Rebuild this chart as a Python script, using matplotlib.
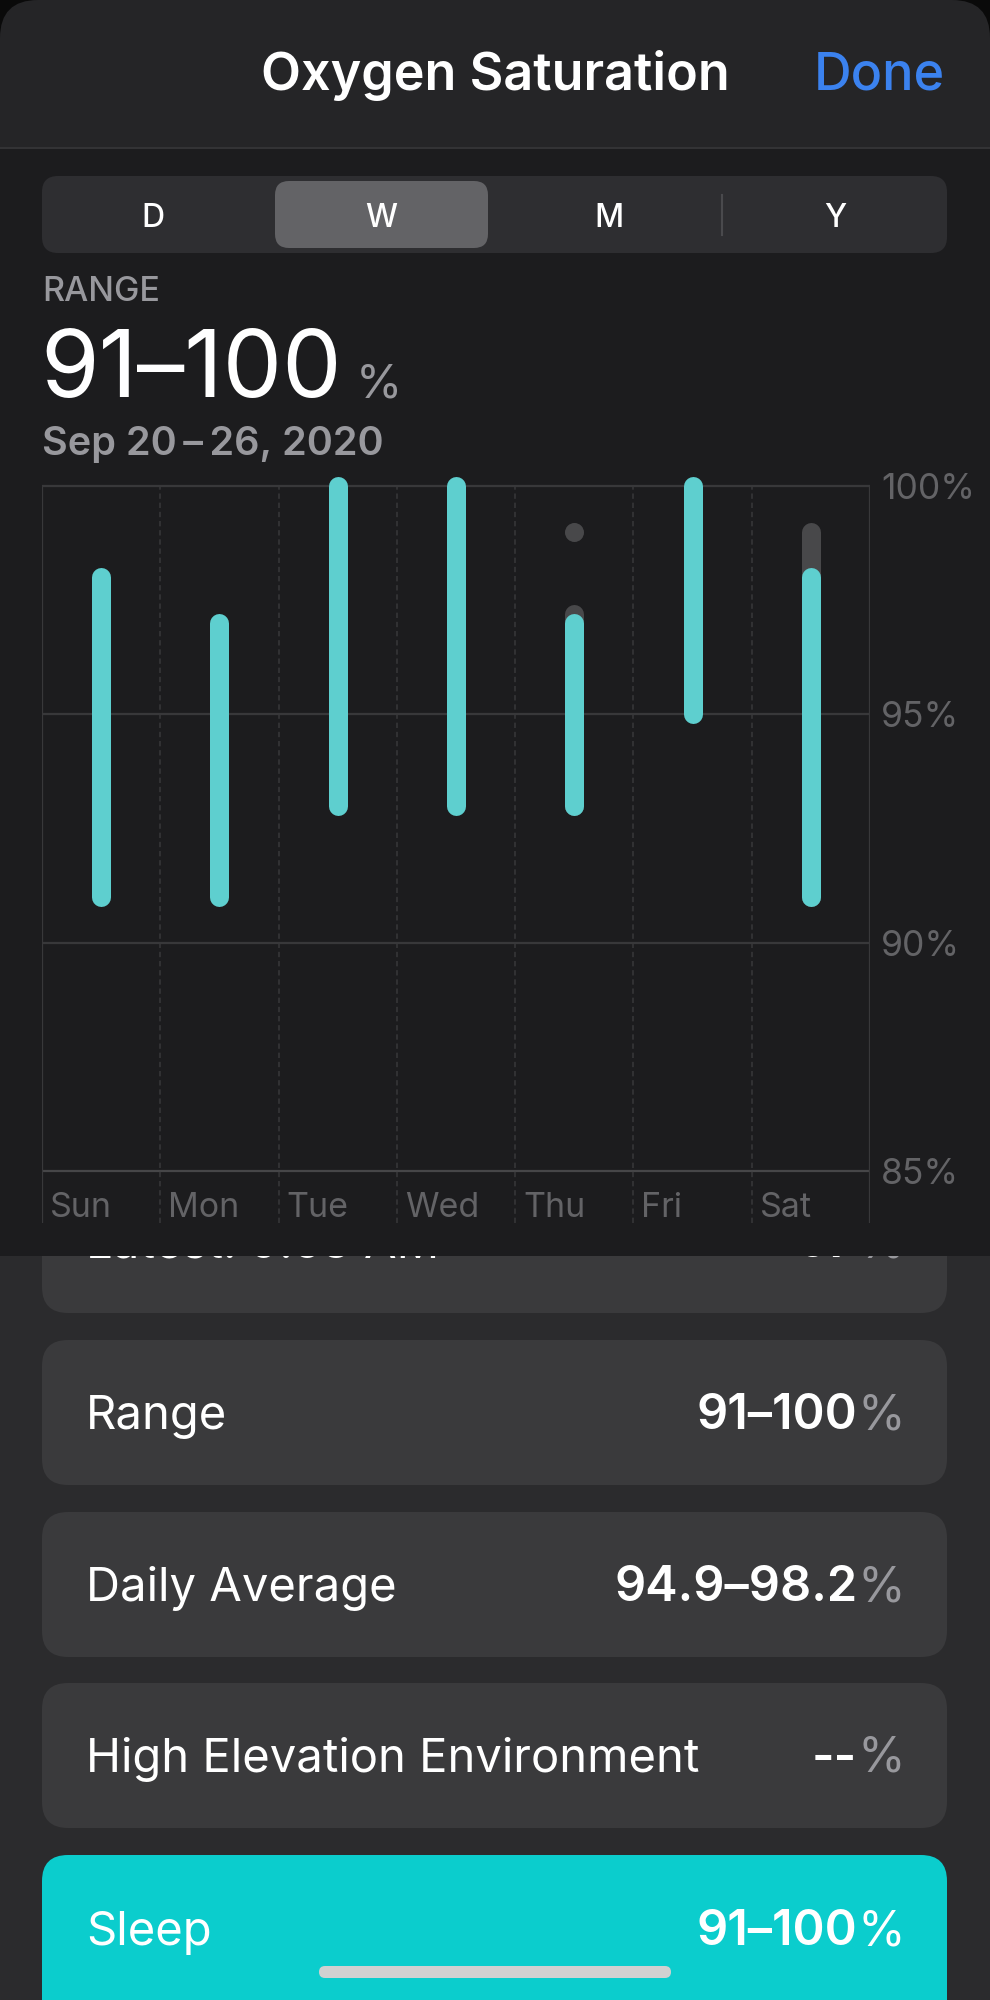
import matplotlib
matplotlib.use("Agg")
import matplotlib.pyplot as plt
from matplotlib.patches import FancyBboxPatch, Rectangle

# ---------------- data ----------------
days = ["Sun", "Mon", "Tue", "Wed", "Thu", "Fri", "Sat"]
sleep_low = [91, 91, 93, 93, 93, 95, 91]
sleep_high = [98, 97, 100, 100, 97, 100, 98]
# readings outside sleep (drawn grey, behind)
other_days = ["Thu", "Sat"]
other_low = [93, 91]
other_high = [97.2, 99]
other_point_days = ["Thu"]
other_point_vals = [99]
y_ticks = [85, 90, 95, 100]
y_tick_labels = ["85%", "90%", "95%", "100%"]
segments = ["D", "W", "M", "Y"]
title = "Oxygen Saturation"
range_value = "91\u2013100"
date_text = "Sep 20\u2009\u2013\u200926, 2020"
card_labels = ["Latest: 9:53 AM", "Range", "Daily Average", "High Elevation Environment", "Sleep"]
card_values = ["97", "91\u2013100", "94.9\u201398.2", "--", "91\u2013100"]

# ---------------- style ----------------
FONT = ["Inter", "Roboto", "DejaVu Sans"]
plt.rcParams["font.family"] = FONT
W, H, DPI = 990, 2000, 100
PT = 72.0 / DPI  # px -> pt

BG_BOTTOM = "#2b2b2d"
CARD = "#3a3a3c"
PANEL = "#1c1c1e"
HEADER = "#252527"
TEAL = "#5ecfcf"
TEAL_CARD = "#0bcdcd"
GREY_BAR = "#48484a"
GRID = "#38383a"
AXIS_TXT = "#636366"
SUB_TXT = "#98989d"

fig = plt.figure(figsize=(W / DPI, H / DPI), dpi=DPI, facecolor=BG_BOTTOM)
bg = fig.add_axes([0, 0, 1, 1])
bg.set_xlim(0, W)
bg.set_ylim(H, 0)
bg.axis("off")

def rbox(x0, y0, x1, y1, r, color, z=1):
    p = FancyBboxPatch((x0, y0), x1 - x0, y1 - y0,
                       boxstyle=f"round,pad=0,rounding_size={r}",
                       fc=color, ec="none", zorder=z)
    bg.add_patch(p)
    return p

# top black strip behind rounded sheet corners
bg.add_patch(Rectangle((0, 0), W, 60, fc="#0a0a0a", ec="none", zorder=0))
# header sheet
rbox(0, 0, W, 220, 38, HEADER, z=1)

# cards
card_y = [(1168, 1313), (1340, 1485), (1512, 1657), (1683, 1828), (1855, 2040)]
baselines = [1257, 1429, 1601, 1772, 1945]
for i, (lab, val) in enumerate(zip(card_labels, card_values)):
    y0, y1 = card_y[i]
    is_sleep = (lab == "Sleep")
    rbox(42, y0, 947, y1, 26, TEAL_CARD if is_sleep else CARD, z=1)
    bl = baselines[i]
    bg.text(86, bl, lab, color="white", fontsize=34, ha="left",
            va="baseline", zorder=3)
    pct = bg.text(905, bl, "%", color="white" if is_sleep else SUB_TXT,
                  fontsize=35, ha="right", va="baseline", zorder=3)
    bg.annotate(val, xy=(0, bl), xycoords=(pct, "data"), ha="right",
                va="baseline", color="white", fontsize=35, fontweight="semibold",
                zorder=3, annotation_clip=False)

# home indicator
rbox(319, 1966, 671, 1978, 6, "#d1d1d1", z=4)

# chart panel (covers top of first card)
bg.add_patch(Rectangle((0, 148), W, 1256 - 148, fc=PANEL, ec="none", zorder=5))
bg.plot([0, W], [148, 148], color="#333335", lw=1.5, zorder=6)

# header texts
bg.text(495, 90, title, color="white", fontsize=37.5, fontweight="semibold",
        ha="center", va="baseline", zorder=6)
bg.text(945, 90, "Done", color="#3b82ef", fontsize=37.5, fontweight="medium",
        ha="right", va="baseline", zorder=6)

# segmented control
rbox(42, 176, 947, 253, 16, "#2e2e31", z=6)
rbox(275, 181, 488, 248, 14, "#636366", z=7)
bg.plot([721.5, 721.5], [195, 235], color="#4a4a4d", lw=1.5, zorder=7)
for lab, cx in zip(segments, [153, 381, 609, 835]):
    bg.text(cx, 227, lab, color="white", fontsize=23, fontweight="medium",
            ha="center", va="baseline", zorder=8)

# summary texts
bg.text(42, 301, "RANGE", color=SUB_TXT, fontsize=24.5, fontweight="medium",
        ha="left", va="baseline", zorder=6)
big = bg.text(40, 397, range_value, color="white", fontsize=68,
              ha="left", va="baseline", zorder=6)
bg.annotate("%", xy=(1, 397), xycoords=(big, "data"), xytext=(14 * PT, 0),
            textcoords="offset points", color=SUB_TXT, fontsize=34,
            ha="left", va="baseline", zorder=6, annotation_clip=False)
bg.text(42, 455, date_text, color=SUB_TXT, fontsize=28.5, fontweight="semibold",
        ha="left", va="baseline", zorder=6)

# ---------------- chart axes ----------------
x_left, x_right = 42, 870
y100_px, y85_px = 486, 1171
top_px, bot_px = 470, 1223
per_unit = (y85_px - y100_px) / 15.0
ymax = 100 + (y100_px - top_px) / per_unit
ymin = 85 - (bot_px - y85_px) / per_unit

ax = fig.add_axes([x_left / W, 1 - bot_px / H, (x_right - x_left) / W,
                   (bot_px - top_px) / H])
ax.set_zorder(10)
ax.patch.set_visible(False)
ax.set_xlim(-0.5, len(days) - 0.5)
ax.set_ylim(ymin, ymax)
for s in ax.spines.values():
    s.set_visible(False)

# grid
for yv in y_ticks:
    ax.axhline(yv, color="#464648" if yv == 85 else GRID, lw=1.6, zorder=1)
ax.vlines([-0.5, len(days) - 0.5], ymin, 100, color=GRID, lw=1.6, zorder=1)
ax.vlines([i + 0.5 for i in range(len(days) - 1)], ymin, 100, color=GRID,
          lw=1.1, linestyles=(0, (3.5, 2.5)), zorder=1)

# y tick labels on right
ax.yaxis.tick_right()
ax.set_yticks(y_ticks)
ax.set_yticklabels(y_tick_labels)
ax.tick_params(axis="y", length=0, pad=11 * PT, labelsize=25.5, labelcolor=AXIS_TXT)
ax.set_xticks([])

# day labels
tr = ax.get_xaxis_transform()
for i, d in enumerate(days):
    ax.text(i - 0.5 + 8 / 118.3, (bot_px - 1217) / (bot_px - top_px), d,
            transform=tr, color=AXIS_TXT, fontsize=24.5, ha="left",
            va="baseline")

bar_w = 19 * PT
xi = {d: i for i, d in enumerate(days)}
# grey (non-sleep) readings
g = ax.vlines([xi[d] for d in other_days], other_low, other_high,
              color=GREY_BAR, lw=bar_w, zorder=3, clip_on=False)
g.set_capstyle("round")
ax.plot([xi[d] for d in other_point_days], other_point_vals, "o",
        color=GREY_BAR, ms=bar_w, mec="none", zorder=3, clip_on=False)
# sleep ranges
b = ax.vlines(range(len(days)), sleep_low, sleep_high, color=TEAL,
              lw=bar_w, zorder=4, clip_on=False)
b.set_capstyle("round")

fig.savefig("out.png", dpi=DPI, facecolor=fig.get_facecolor())
